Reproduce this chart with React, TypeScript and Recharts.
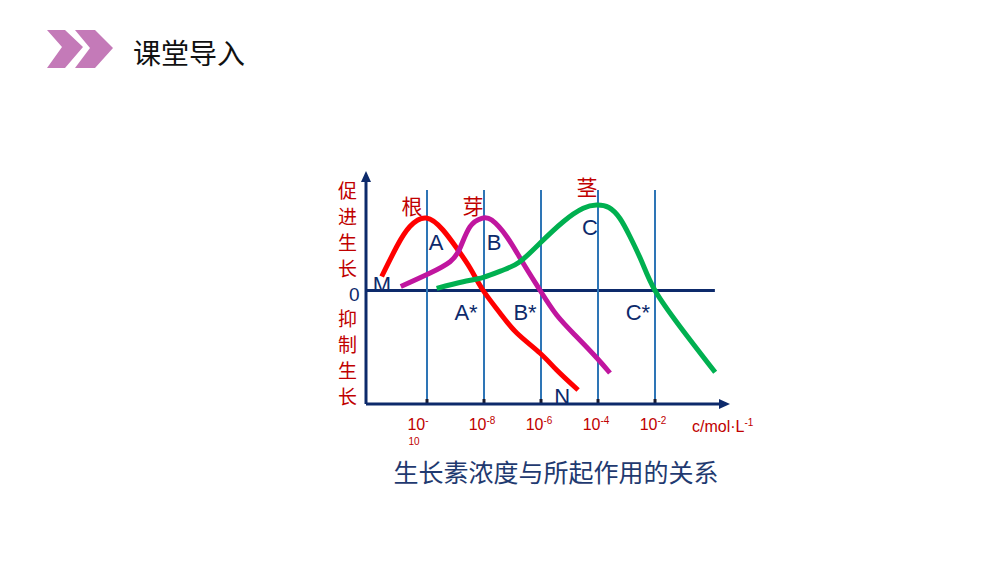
import React from "react";
import {
  ComposedChart,
  Line,
  XAxis,
  YAxis,
  ReferenceLine,
  ReferenceDot,
} from "recharts";

const NAVY = "#0d2a6b";
const DARK_RED = "#c00000";
const GRID_BLUE = "#2e75b6";
const CJK = '"Noto Sans CJK SC", "Noto Sans", sans-serif';
const LATIN = '"Liberation Sans", Arial, sans-serif';

// x is log10 of the concentration (mol/L), y is growth effect (+ promotes, - inhibits)
const X_MIN = -12.14;
const X_MAX = 0.35;
const Y_MIN = -113.5;
const Y_MAX = 112.5;
const ZERO_END = 0.1;
const GUIDE_TOP = 100.5;

const TICKS = [-10, -8, -6, -4, -2];

const ROOT = [
  { x: -11.59, y: 14 },
  { x: -11.06, y: 44 },
  { x: -10.6, y: 64 },
  { x: -10.02, y: 72.5 },
  { x: -9.44, y: 60.5 },
  { x: -8.96, y: 42.5 },
  { x: -8.49, y: 22.5 },
  { x: -8.04, y: 0.5 },
  { x: -7.44, y: -22.5 },
  { x: -6.85, y: -42.5 },
  { x: -6.04, y: -62.5 },
  { x: -5.45, y: -79.5 },
  { x: -4.7, y: -99.5 },
];

const BUD = [
  { x: -10.92, y: 4 },
  { x: -9.89, y: 17.5 },
  { x: -9.19, y: 28.8 },
  { x: -8.84, y: 42.5 },
  { x: -8.49, y: 63.8 },
  { x: -8.08, y: 72.2 },
  { x: -7.73, y: 70.5 },
  { x: -7.2, y: 53.8 },
  { x: -6.63, y: 27.5 },
  { x: -6.04, y: 0.5 },
  { x: -5.45, y: -24.5 },
  { x: -4.75, y: -46.2 },
  { x: -4.04, y: -67.5 },
  { x: -3.58, y: -82.5 },
];

const STEM = [
  { x: -9.66, y: 2.2 },
  { x: -8.73, y: 8.8 },
  { x: -8.02, y: 13.2 },
  { x: -7.32, y: 20.5 },
  { x: -6.74, y: 28.8 },
  { x: -6.04, y: 47.2 },
  { x: -5.22, y: 68.8 },
  { x: -4.52, y: 82.2 },
  { x: -4.05, y: 85.5 },
  { x: -3.62, y: 83 },
  { x: -3.23, y: 72 },
  { x: -2.88, y: 54 },
  { x: -2.46, y: 28.5 },
  { x: -2.01, y: 0.5 },
  { x: -1.12, y: -36.2 },
  { x: 0.11, y: -81.8 },
];

const ORGAN_LABELS = [
  { text: "根", x: -10.53, y: 85.5 },
  { text: "芽", x: -8.39, y: 85.5 },
  { text: "茎", x: -4.39, y: 104.5 },
];

const POINT_LABELS = [
  { text: "A", x: -9.68, y: 48.5 },
  { text: "B", x: -7.65, y: 48.5 },
  { text: "C", x: -4.28, y: 63.5 },
  { text: "A*", x: -8.63, y: -21.5 },
  { text: "B*", x: -6.56, y: -21.5 },
  { text: "C*", x: -2.6, y: -21.5 },
  { text: "M", x: -11.58, y: 6.5 },
  { text: "N", x: -5.26, y: -105.5 },
];

const PROMOTE = ["促", "进", "生", "长"];
const INHIBIT = ["抑", "制", "生", "长"];

function LogTick(props: any) {
  const { x, y, payload } = props;
  const exp = String(payload.value);
  if (payload.value === -10) {
    return (
      <g fill={DARK_RED} fontFamily={LATIN}>
        <text x={x - 9} y={y + 26} textAnchor="middle" fontSize={16}>
          10
          <tspan fontSize={10} dy={-6}>
            -
          </tspan>
        </text>
        <text x={x - 13} y={y + 41} textAnchor="middle" fontSize={10}>
          10
        </text>
      </g>
    );
  }
  return (
    <text x={x - 2} y={y + 26} textAnchor="middle" fill={DARK_RED} fontFamily={LATIN} fontSize={16}>
      10
      <tspan fontSize={10} dy={-6}>
        {exp}
      </tspan>
    </text>
  );
}

const arrowUp = (p: any) => (
  <polygon points={`${p.cx},${p.cy - 7} ${p.cx - 5},${p.cy + 4} ${p.cx + 5},${p.cy + 4}`} fill={NAVY} />
);

const arrowRight = (p: any) => (
  <polygon points={`${p.cx + 8},${p.cy} ${p.cx - 3},${p.cy - 5} ${p.cx - 3},${p.cy + 5}`} fill={NAVY} />
);

const textShape = (text: string, color: string, size: number, font: string) => (p: any) => (
  <text
    x={p.cx}
    y={p.cy}
    textAnchor="middle"
    dominantBaseline="central"
    fill={color}
    fontSize={size}
    fontFamily={font}
  >
    {text}
  </text>
);

function Chevrons() {
  return (
    <svg width={120} height={80} style={{ position: "absolute", left: 0, top: 0 }}>
      <polygon points="47,30 65,30 83,47 65,68 47,68 62,47" fill="#c47ab8" />
      <polygon points="75,30 95,30 113,48 95,68 75,68 90,48" fill="#c47ab8" />
    </svg>
  );
}

const sideChar = (top: number): React.CSSProperties => ({
  position: "absolute",
  left: 337,
  top,
  width: 21,
  fontFamily: CJK,
  fontSize: 19,
  lineHeight: "20px",
  color: DARK_RED,
  textAlign: "center",
});

export default function App() {
  return (
    <div
      style={{
        position: "absolute",
        left: 0,
        top: 0,
        width: 1000,
        height: 563,
        background: "#fff",
        overflow: "hidden",
      }}
    >
      <Chevrons />
      <div
        style={{
          position: "absolute",
          left: 133,
          top: 37,
          fontFamily: CJK,
          fontSize: 28,
          lineHeight: "30px",
          color: "#111",
        }}
      >
        课堂导入
      </div>

      {PROMOTE.map((c, i) => (
        <div key={"p" + i} style={sideChar(180 + i * 26)}>
          {c}
        </div>
      ))}
      {INHIBIT.map((c, i) => (
        <div key={"i" + i} style={sideChar(308 + i * 26)}>
          {c}
        </div>
      ))}
      <div
        style={{
          position: "absolute",
          left: 349,
          top: 285,
          fontFamily: LATIN,
          fontSize: 19,
          lineHeight: "19px",
          color: NAVY,
        }}
      >
        0
      </div>

      <div style={{ position: "absolute", left: 0, top: 0 }}>
        <ComposedChart
          width={1000}
          height={563}
          margin={{ top: 178, right: 278, bottom: 129, left: 366 }}
        >
          <XAxis
            dataKey="x"
            type="number"
            domain={[X_MIN, X_MAX]}
            ticks={TICKS}
            allowDataOverflow
            height={30}
            axisLine={{ stroke: NAVY, strokeWidth: 3 }}
            tickLine={false}
            tickSize={0}
            tickMargin={0}
            tick={<LogTick />}
            interval={0}
          />
          <YAxis type="number" domain={[Y_MIN, Y_MAX]} allowDataOverflow hide />

          <ReferenceLine x={X_MIN} stroke={NAVY} strokeWidth={3} />
          <ReferenceLine
            segment={[
              { x: X_MIN, y: 0 },
              { x: ZERO_END, y: 0 },
            ]}
            stroke={NAVY}
            strokeWidth={3}
          />
          {TICKS.map((t) => (
            <ReferenceLine
              key={"g" + t}
              segment={[
                { x: t, y: Y_MIN },
                { x: t, y: GUIDE_TOP },
              ]}
              stroke={GRID_BLUE}
              strokeWidth={2}
            />
          ))}
          {TICKS.map((t) => (
            <ReferenceLine
              key={"k" + t}
              segment={[
                { x: t, y: Y_MIN },
                { x: t, y: Y_MIN + 5 },
              ]}
              stroke="#1a1a2e"
              strokeWidth={3}
            />
          ))}

          <Line
            data={ROOT}
            dataKey="y"
            type="natural"
            stroke="#ff0000"
            strokeWidth={5}
            dot={false}
            isAnimationActive={false}
          />
          <Line
            data={BUD}
            dataKey="y"
            type="natural"
            stroke="#c0169f"
            strokeWidth={5}
            dot={false}
            isAnimationActive={false}
          />
          <Line
            data={STEM}
            dataKey="y"
            type="natural"
            stroke="#00b050"
            strokeWidth={5}
            dot={false}
            isAnimationActive={false}
          />

          <ReferenceDot x={X_MIN} y={Y_MAX} r={0} shape={arrowUp} />
          <ReferenceDot x={X_MAX} y={Y_MIN} r={0} shape={arrowRight} />

          {ORGAN_LABELS.map((l) => (
            <ReferenceDot
              key={l.text}
              x={l.x}
              y={l.y}
              r={0}
              shape={textShape(l.text, DARK_RED, 21, CJK)}
            />
          ))}
          {POINT_LABELS.map((l) => (
            <ReferenceDot
              key={l.text}
              x={l.x}
              y={l.y}
              r={0}
              shape={textShape(l.text, NAVY, 22, LATIN)}
            />
          ))}
        </ComposedChart>
      </div>

      <div
        style={{
          position: "absolute",
          left: 692,
          top: 414,
          fontFamily: LATIN,
          fontSize: 16,
          lineHeight: "18px",
          color: DARK_RED,
          whiteSpace: "nowrap",
        }}
      >
        c/mol·L
        <sup style={{ fontSize: 10, verticalAlign: "6px" }}>-1</sup>
      </div>

      <div
        style={{
          position: "absolute",
          left: 380,
          top: 457,
          width: 352,
          textAlign: "center",
          fontFamily: CJK,
          fontSize: 25,
          lineHeight: "29px",
          color: "#1f3a70",
          whiteSpace: "nowrap",
        }}
      >
        生长素浓度与所起作用的关系
      </div>
    </div>
  );
}
